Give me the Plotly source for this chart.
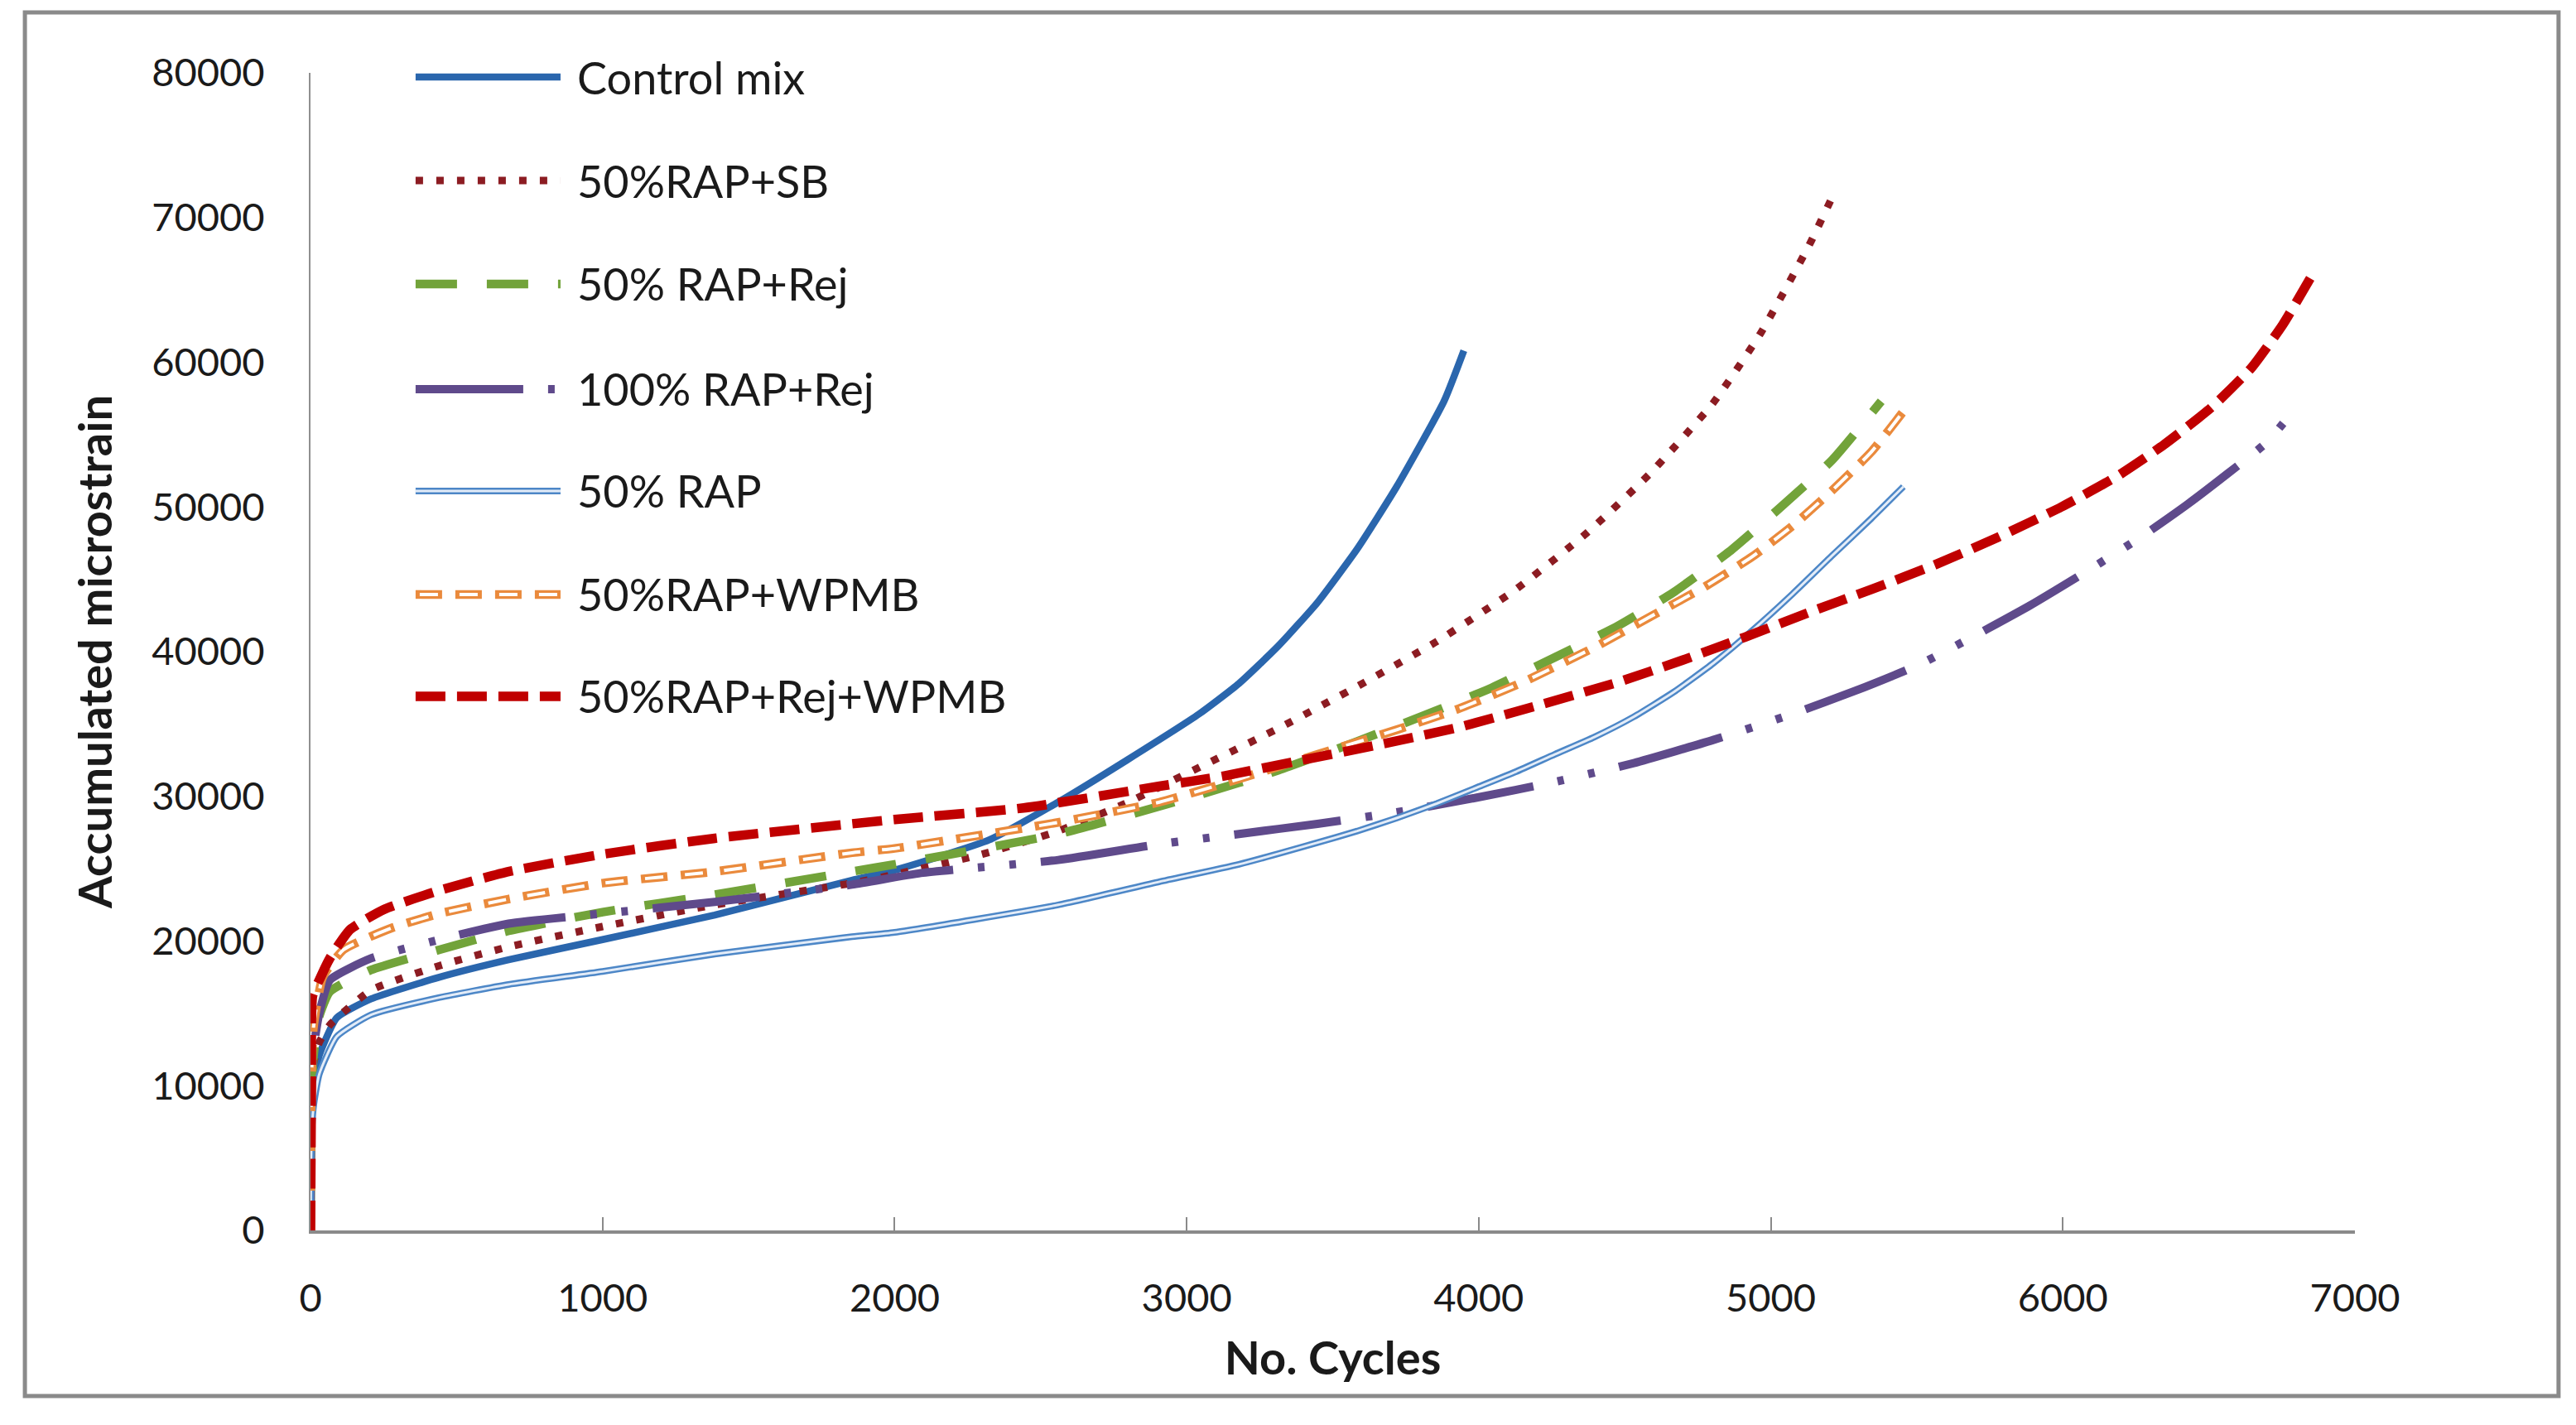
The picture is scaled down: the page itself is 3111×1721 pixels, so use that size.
import plotly.graph_objects as go

# ---------------- data ----------------
series_names = ["Control mix", "50%RAP+SB", "50% RAP+Rej", "100% RAP+Rej",
                "50% RAP", "50%RAP+WPMB", "50%RAP+Rej+WPMB"]

control_x = [0, 3, 10, 30, 90, 207, 442, 678, 1000, 1384, 1854, 2000, 2325, 2560,
             2795, 3043, 3179, 3314, 3448, 3584, 3719, 3881, 3949]
control_y = [0, 7000, 10000, 12100, 14700, 16000, 17500, 18700, 20100, 21800, 24200,
             24900, 27000, 29600, 32500, 35700, 37800, 40400, 43400, 47100, 51400,
             57300, 60800]

sb_x = [0, 3, 10, 30, 66, 207, 442, 678, 1000, 1384, 1854, 2000, 2300, 2560, 2800,
        3043, 3314, 3584, 3856, 4127, 4370, 4586, 4803, 4965, 5129, 5210]
sb_y = [0, 9000, 11500, 13000, 14200, 16600, 18300, 19600, 21000, 22500, 24000,
        24600, 26000, 27600, 29600, 32000, 34700, 37600, 40700, 44300, 48200, 52300,
        57200, 62000, 68000, 71400]

rej_x = [0, 3, 10, 30, 66, 207, 442, 678, 1000, 1384, 1854, 2000, 2560, 3043, 3314,
         3584, 3801, 4044, 4260, 4478, 4667, 4857, 5018, 5208, 5378]
rej_y = [0, 9000, 12000, 14800, 16500, 18000, 19400, 20700, 22000, 23200, 24800,
         25300, 27400, 30100, 31800, 33800, 35500, 37500, 39600, 41800, 44100, 46900,
         49700, 53200, 57300]

rap100_x = [0, 3, 10, 30, 66, 207, 442, 678, 1000, 1384, 1854, 2090, 2560, 2907,
            3179, 3448, 3719, 3990, 4260, 4531, 4803, 5075, 5290, 5508, 5698, 5888,
            6077, 6266, 6428, 6564, 6700, 6807]
rap100_y = [0, 9000, 12500, 15000, 17300, 18800, 20100, 21200, 21900, 22700, 23900,
            24700, 25600, 26700, 27400, 28100, 28900, 29900, 31000, 32300, 33900,
            35700, 37300, 39100, 41100, 43200, 45500, 47900, 50200, 52300, 54500, 57100]

rap50_x = [0, 3, 10, 30, 90, 207, 442, 678, 1000, 1384, 1854, 2000, 2560, 2907, 3179,
           3448, 3584, 3719, 3856, 3992, 4127, 4260, 4396, 4531, 4667, 4803, 4939,
           5075, 5208, 5344, 5454]
rap50_y = [0, 6000, 8500, 10800, 13400, 14900, 16100, 17000, 17900, 19100, 20300,
           20600, 22500, 24100, 25300, 26800, 27600, 28500, 29500, 30600, 31700, 32900,
           34100, 35500, 37200, 39200, 41500, 44000, 46600, 49200, 51400]

wpmb_x = [0, 3, 10, 42, 113, 278, 442, 678, 1000, 1384, 1854, 2000, 2560, 2907, 3179,
          3448, 3719, 3937, 4152, 4396, 4586, 4775, 4939, 5075, 5208, 5344, 5454]
wpmb_y = [0, 10000, 14000, 17500, 19400, 20900, 21900, 22900, 24000, 24800, 26100,
          26400, 28200, 29600, 31200, 32900, 34600, 36100, 37900, 40300, 42400, 44500,
          46600, 48700, 51100, 53800, 56600]

rejwpmb_x = [0, 3, 7, 30, 66, 136, 254, 442, 678, 1000, 1384, 2000, 2442, 2907, 3125,
             3394, 3666, 3937, 4206, 4478, 4696, 4911, 5129, 5344, 5562, 5777, 5995,
             6184, 6346, 6510, 6645, 6753, 6847]
rejwpmb_y = [0, 10000, 16200, 17300, 18800, 20800, 22200, 23500, 24800, 26000, 27100,
             28400, 29200, 30700, 31400, 32500, 33600, 34800, 36300, 37900, 39400,
             41000, 42700, 44300, 46000, 47900, 50000, 52100, 54300, 56900, 59600,
             62600, 65800]

y_ticks = [0, 10000, 20000, 30000, 40000, 50000, 60000, 70000, 80000]
x_ticks = [0, 1000, 2000, 3000, 4000, 5000, 6000, 7000]

# ---------------- styles ----------------
FONT = "Lato"
C_CONTROL = "#2a66ad"
C_SB = "#8c1c22"
C_REJ = "#72a33a"
C_R100 = "#5f4a8b"
C_R50 = "#4d87c7"
C_R50_IN = "#e3ecf8"
C_WPMB = "#ea8a3c"
C_RW = "#c00000"

D_SB = "9px,16px"
D_REJ = "50px,36px"
D_R100 = "130px,30px,8px,30px,8px,30px"
D_WPMB = "32px,16px"
D_WPMB_IN = "0px,5px,22px,21px"
D_RW = "36px,14px"

# (name, x, y, layers [(color, width, dash)])
specs = [
    (series_names[0], control_x, control_y, [(C_CONTROL, 8.5, "solid")]),
    (series_names[1], sb_x, sb_y, [(C_SB, 9, D_SB)]),
    (series_names[2], rej_x, rej_y, [(C_REJ, 10.5, D_REJ)]),
    (series_names[3], rap100_x, rap100_y, [(C_R100, 10, D_R100)]),
    (series_names[4], rap50_x, rap50_y, [(C_R50, 8, "solid"), (C_R50_IN, 3, "solid")]),
    (series_names[5], wpmb_x, wpmb_y, [(C_WPMB, 10.5, D_WPMB), ("#ffffff", 4, D_WPMB_IN)]),
    (series_names[6], rejwpmb_x, rejwpmb_y, [(C_RW, 11.5, D_RW)]),
]

fig = go.Figure()
for name, xs, ys, layers in specs:
    for color, width, dash in layers:
        fig.add_trace(go.Scatter(
            x=xs, y=ys, mode="lines", name=name, showlegend=False,
            line=dict(color=color, width=width, dash=dash, shape="spline", smoothing=0.5),
            hoverinfo="x+y+name",
        ))

# ---------------- custom legend (long line samples like the original) ----------------
leg_x0, leg_x1, leg_tx = 0.0514, 0.1223, 0.1296
leg_y = [0.9964, 0.9070, 0.8176, 0.7268, 0.6388, 0.5494, 0.4614]
shapes = []
annotations = []
for (name, xs, ys, layers), yy in zip(specs, leg_y):
    for color, width, dash in layers:
        shapes.append(dict(type="line", xref="paper", yref="paper",
                           x0=leg_x0, x1=leg_x1, y0=yy, y1=yy,
                           line=dict(color=color, width=width, dash=dash)))
    annotations.append(dict(xref="paper", yref="paper", x=leg_tx, y=yy,
                            text=name, showarrow=False, xanchor="left", yanchor="middle",
                            font=dict(family=FONT, size=54, color="#1a1a1a")))

# outer chart border
shapes.append(dict(type="rect", xref="paper", yref="paper",
                   x0=-0.1397, x1=1.0996, y0=-0.1431, y1=1.0522,
                   line=dict(color="#8a8a8a", width=5), layer="below"))

W, H = 3095, 1705
fig.update_layout(
    width=W, height=H,
    margin=dict(l=367, r=259, t=80, b=227),
    paper_bgcolor="white", plot_bgcolor="white",
    font=dict(family=FONT, color="#1a1a1a"),
    shapes=shapes, annotations=annotations,
    showlegend=False,
)
fig.update_xaxes(
    range=[0, 7000], tickvals=x_ticks, tickformat="d",
    showgrid=False, zeroline=False,
    showline=True, linecolor="#8a8a8a", linewidth=4,
    ticks="inside", ticklen=16, tickwidth=2, tickcolor="#8a8a8a",
    tickfont=dict(family=FONT, size=47, color="#1a1a1a"),
    ticklabelstandoff=38,
    title=dict(text="<b>No. Cycles</b>", font=dict(family=FONT, size=56, color="#1a1a1a"),
               standoff=28),
)
fig.update_yaxes(
    range=[0, 80000], tickvals=y_ticks, tickformat="d",
    showgrid=False, zeroline=False,
    showline=True, linecolor="#8f8f8f", linewidth=2,
    ticks="",
    tickfont=dict(family=FONT, size=47, color="#1a1a1a"),
    ticklabelstandoff=44,
    title=dict(text="<b>Accumulated microstrain</b>",
               font=dict(family=FONT, size=56, color="#1a1a1a"), standoff=30),
)

fig.write_html("out.html")
